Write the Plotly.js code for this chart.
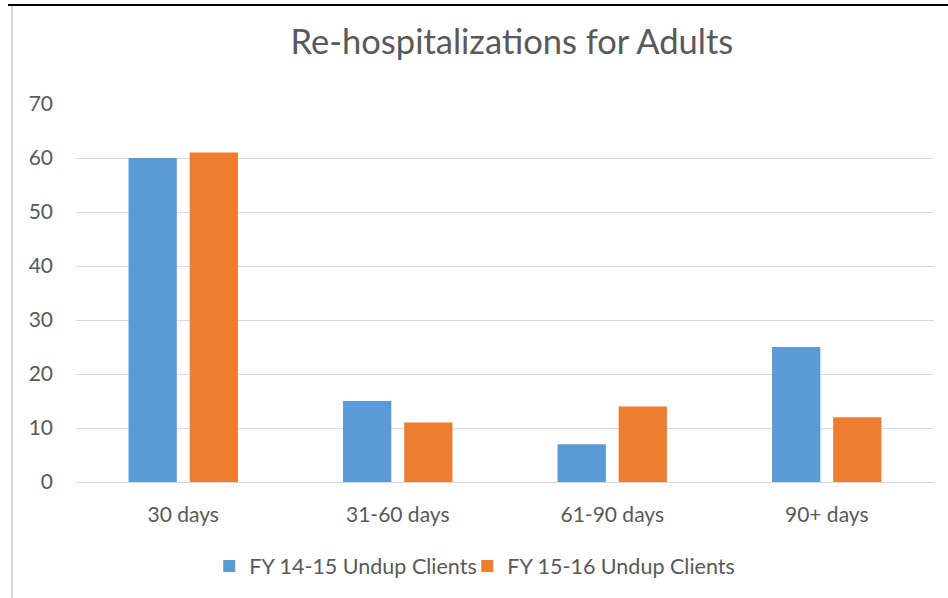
<!DOCTYPE html>
<html>
<head>
<meta charset="utf-8">
<script src="https://cdn.plot.ly/plotly-3.0.1.min.js"></script>
<style>
html,body{margin:0;padding:0;background:#fff;}
#wrap{position:relative;width:948px;height:598px;overflow:hidden;}
#chart{position:absolute;left:0;top:0;width:948px;height:598px;}
#topline{position:absolute;left:8px;top:4px;width:940px;height:2px;background:#000;}
#leftline{position:absolute;left:11px;top:6px;width:2px;height:592px;background:#d9d9d9;}
</style>
</head>
<body>
<div id="wrap">
<div id="chart"></div>
<div id="topline"></div>
<div id="leftline"></div>
</div>
<script>
const categories = ["30 days", "31-60 days", "61-90 days", "90+ days"];
const seriesNames = ["FY 14-15 Undup Clients", "FY 15-16 Undup Clients"];
const fy1415 = [60, 15, 7, 25];
const fy1516 = [61, 11, 14, 12];
const yTicks = [0, 10, 20, 30, 40, 50, 60, 70];

const font = "Lato, 'Open Sans', sans-serif";
const traces = [
  {type: "bar", name: seriesNames[0], x: categories, y: fy1415, marker: {color: "#5b9bd5"}, hoverinfo: "y", legend: "legend"},
  {type: "bar", name: seriesNames[1], x: categories, y: fy1516, marker: {color: "#ed7d31"}, hoverinfo: "y", legend: "legend2"}
];
const legendBase = {orientation: "h", xref: "container", yref: "container", xanchor: "left", y: 0.0535, yanchor: "middle", font: {size: 21.5}, itemwidth: 30};
const layout = {
  width: 948, height: 598,
  margin: {l: 76, r: 14, t: 104, b: 116},
  paper_bgcolor: "rgba(0,0,0,0)", plot_bgcolor: "#fff",
  font: {family: font, color: "#595959", size: 21},
  title: {text: "Re-hospitalizations for Adults", font: {family: font, size: 34.5, color: "#595959"}, xref: "container", x: 0.54, xanchor: "center", y: 0.93, yanchor: "middle"},
  barmode: "group", bargap: 0.43, bargroupgap: 0.21,
  xaxis: {showgrid: false, zeroline: false, showline: false, ticks: "", ticklabelstandoff: 18, tickfont: {size: 21}, automargin: false},
  yaxis: {range: [0, 70], tickvals: yTicks, showgrid: true, gridcolor: "#d9d9d9", gridwidth: 1, zeroline: true, zerolinecolor: "#d9d9d9", zerolinewidth: 1, showline: false, ticks: "", ticklabelstandoff: 22, tickfont: {size: 21}, automargin: false},
  legend: Object.assign({}, legendBase, {x: 0.2207}),
  legend2: Object.assign({}, legendBase, {x: 0.4929}),
  showlegend: true
};
Plotly.newPlot("chart", traces, layout, {displayModeBar: false, staticPlot: true});
</script>
</body>
</html>
